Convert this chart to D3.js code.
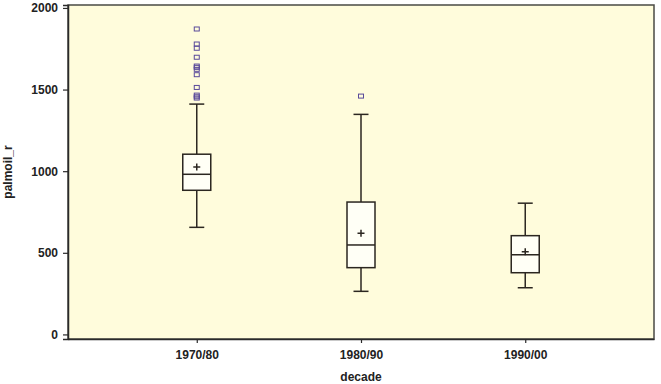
<!DOCTYPE html>
<html>
<head>
<meta charset="utf-8">
<script src="https://cdn.jsdelivr.net/npm/d3@7"></script>
<style>
  body { margin: 0; background: #fff; }
  svg { display: block; font-family: "Liberation Sans", Arial, sans-serif; }
</style>
</head>
<body>
<div id="chart"></div>
<script>
// box summaries
const decades = ["1970/80", "1980/90", "1990/00"];
const whiskerLow = [656, 264, 286];
const q1 = [883, 409, 378];
const median = [981, 548, 488];
const q3 = [1104, 811, 605];
const whiskerHigh = [1411, 1348, 804];
const means = [1025, 620, 507];
const outliers = [
    [1871, 1779, 1753, 1698, 1644, 1636, 1624, 1591, 1513, 1466, 1456, 1448],
    [1460],
    []
];
const yTicks = [0, 500, 1000, 1500, 2000];

const width = 661, height = 384;
const margin = { top: 5, right: 7, bottom: 45, left: 68 };

const svg = d3.select("#chart")
    .append("svg")
    .attr("width", width)
    .attr("height", height);

const x = d3.scalePoint()
    .domain(decades)
    .range([margin.left, width - margin.right])
    .padding(0.784);

const y = d3.scaleLinear()
    .domain([-28, 2018])
    .range([height - margin.bottom, margin.top]);

// plot background
svg.append("rect")
    .attr("x", margin.left)
    .attr("y", margin.top)
    .attr("width", width - margin.left - margin.right)
    .attr("height", height - margin.top - margin.bottom)
    .attr("fill", "#fffcdc")
    .attr("stroke", "#4a4a44")
    .attr("stroke-width", 1.5);

// axes
const yAxis = svg.append("g")
    .attr("transform", `translate(${margin.left},0)`)
    .call(d3.axisLeft(y).tickValues(yTicks).tickFormat(d3.format("d")).tickSize(5).tickPadding(5));
yAxis.select(".domain").attr("stroke", "#2a2a2a").attr("stroke-width", 1.5);
yAxis.selectAll("line").attr("stroke", "#2a2a2a").attr("stroke-width", 1.2);
yAxis.selectAll("text")
    .style("font-size", "12px")
    .style("font-weight", "bold")
    .attr("fill", "#222");

const xAxis = svg.append("g")
    .attr("transform", `translate(0,${height - margin.bottom})`)
    .call(d3.axisBottom(x).tickSize(4).tickPadding(7).tickSizeOuter(0));
xAxis.select(".domain").attr("stroke", "#2a2a2a").attr("stroke-width", 1.5);
xAxis.selectAll("line").attr("stroke", "#2a2a2a").attr("stroke-width", 1.2);
xAxis.selectAll("text")
    .style("font-size", "12px")
    .style("font-weight", "bold")
    .attr("fill", "#222");

// axis titles
svg.append("text")
    .attr("transform", `translate(12,${(margin.top + height - margin.bottom) / 2}) rotate(-90)`)
    .attr("text-anchor", "middle")
    .style("font-size", "12px")
    .style("font-weight", "bold")
    .attr("fill", "#222")
    .text("palmoil_r");

svg.append("text")
    .attr("x", (margin.left + width - margin.right) / 2)
    .attr("y", 381)
    .attr("text-anchor", "middle")
    .style("font-size", "12px")
    .style("font-weight", "bold")
    .attr("fill", "#222")
    .text("decade");

// boxes
const boxW = 28, capW = 15;
const lineColor = "#2b2620";

decades.forEach((d, i) => {
    const cx = x(d);
    const g = svg.append("g");

    // whiskers
    g.append("line")
        .attr("x1", cx).attr("x2", cx)
        .attr("y1", y(whiskerHigh[i])).attr("y2", y(q3[i]))
        .attr("stroke", lineColor).attr("stroke-width", 1.5);
    g.append("line")
        .attr("x1", cx).attr("x2", cx)
        .attr("y1", y(q1[i])).attr("y2", y(whiskerLow[i]))
        .attr("stroke", lineColor).attr("stroke-width", 1.5);
    [whiskerHigh[i], whiskerLow[i]].forEach(v => {
        g.append("line")
            .attr("x1", cx - capW / 2).attr("x2", cx + capW / 2)
            .attr("y1", y(v)).attr("y2", y(v))
            .attr("stroke", lineColor).attr("stroke-width", 1.5);
    });

    // box
    g.append("rect")
        .attr("x", cx - boxW / 2)
        .attr("y", y(q3[i]))
        .attr("width", boxW)
        .attr("height", y(q1[i]) - y(q3[i]))
        .attr("fill", "#fffff6")
        .attr("stroke", lineColor)
        .attr("stroke-width", 1.5);

    // median
    g.append("line")
        .attr("x1", cx - boxW / 2).attr("x2", cx + boxW / 2)
        .attr("y1", y(median[i])).attr("y2", y(median[i]))
        .attr("stroke", lineColor).attr("stroke-width", 1.5);

    // mean marker
    const my = y(means[i]);
    g.append("path")
        .attr("d", `M${cx - 3.5},${my}H${cx + 3.5}M${cx},${my - 3.5}V${my + 3.5}`)
        .attr("stroke", lineColor).attr("stroke-width", 1.5);

    // outliers
    g.selectAll(".outlier")
        .data(outliers[i])
        .enter()
        .append("rect")
        .attr("class", "outlier")
        .attr("x", cx - 2.5)
        .attr("y", v => y(v) - 2)
        .attr("width", 5)
        .attr("height", 4)
        .attr("fill", "none")
        .attr("stroke", "#5a4a9a")
        .attr("stroke-width", 1);
});
</script>
</body>
</html>
